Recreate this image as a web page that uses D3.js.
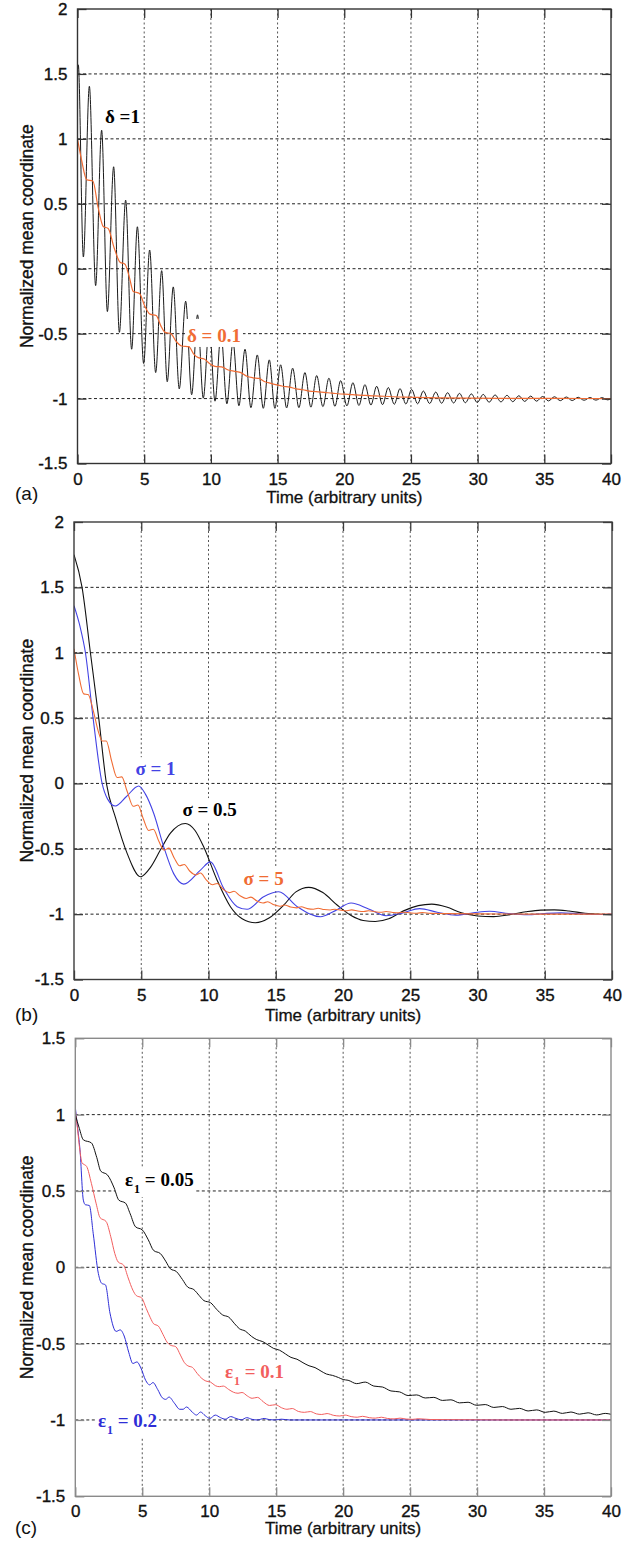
<!DOCTYPE html>
<html>
<head>
<meta charset="utf-8">
<script src="https://cdn.jsdelivr.net/npm/d3@7"></script>
<style>
body { margin: 0; background: #fff; }
svg { display: block; }
</style>
</head>
<body>
<script>
// ---- axis values ----
var xTicks = [0, 5, 10, 15, 20, 25, 30, 35, 40];
var xTickLabels = ["0", "5", "10", "15", "20", "25", "30", "35", "40"];
var yTicksAB = [-1.5, -1, -0.5, 0, 0.5, 1, 1.5, 2];
var yTickLabelsAB = ["-1.5", "-1", "-0.5", "0", "0.5", "1", "1.5", "2"];
var yTicksC = [-1.5, -1, -0.5, 0, 0.5, 1, 1.5];
var yTickLabelsC = ["-1.5", "-1", "-0.5", "0", "0.5", "1", "1.5"];

// ---- (a) delta = 1 (black), peaks and troughs ----
var deltaOne = [[0,1.50],[0.06,1.57],[0.44,0.09],[0.89,1.405],[1.36,-0.13],[1.81,1.067],[2.24,-0.33],[2.71,0.785],
 [3.14,-0.49],[3.61,0.528],[4.06,-0.62],[4.49,0.323],[4.96,-0.73],[5.41,0.144],[5.86,-0.80],[6.31,-0.015],
 [6.73,-0.87],[7.18,-0.14],[7.63,-0.925],[8.11,-0.25],[8.56,-0.97],[9.0,-0.355],[9.43,-0.997],[9.88,-0.43],
 [10.31,-1.02],[10.76,-0.50],[11.2,-1.04],[11.66,-0.565],[12.1,-1.055],[12.56,-0.62],[13.0,-1.07],[13.48,-0.664],
 [13.93,-1.075],[14.38,-0.702],[14.8,-1.075],[15.23,-0.74],[15.68,-1.072],[16.13,-0.766],[16.6,-1.07],[17.05,-0.80],
 [17.5,-1.066],[17.93,-0.823],[18.4,-1.062],[18.85,-0.843],[19.3,-1.06],[19.73,-0.862],[20.2,-1.056],[20.65,-0.878],
 [21.1,-1.053],[21.55,-0.893],[22.0,-1.05],[22.43,-0.905],[22.87,-1.047],[23.3,-0.915],[23.75,-1.044],[24.18,-0.923],
 [24.62,-1.042],[25.05,-0.93],[25.5,-1.04],[25.93,-0.942],[26.4,-1.038],[26.86,-0.95],[27.3,-1.036],[27.75,-0.955],
 [28.2,-1.034],[28.64,-0.96],[29.08,-1.032],[29.53,-0.964],[29.97,-1.03],[30.42,-0.968],[30.86,-1.028],[31.31,-0.972],
 [31.75,-1.026],[32.2,-0.975],[32.64,-1.024],[33.09,-0.978],[33.53,-1.022],[33.98,-0.981],[34.42,-1.02],[34.87,-0.984],
 [35.31,-1.018],[35.76,-0.986],[36.2,-1.016],[36.65,-0.988],[37.09,-1.015],[37.54,-0.99],[37.98,-1.013],[38.43,-0.992],
 [38.87,-1.012],[39.32,-0.993],[39.76,-1.01],[40,-1.0]];

// ---- (a) delta = 0.1 (orange) ----
var deltaTenth = [[0,1.0],[0.3,0.84],[0.69,0.685],[1.15,0.675],[1.55,0.47],[1.93,0.325],[2.3,0.31],[2.75,0.16],
 [3.19,0.05],[3.56,0.035],[3.9,-0.07],[4.18,-0.175],[4.65,-0.19],[5.05,-0.29],[5.43,-0.35],[5.9,-0.36],
 [6.25,-0.44],[6.56,-0.49],[7.0,-0.5],[7.4,-0.56],[7.81,-0.595],[8.35,-0.6],[8.7,-0.655],[9.06,-0.685],
 [9.5,-0.695],[9.9,-0.73],[10.31,-0.752],[10.8,-0.756],[11.3,-0.78],[11.8,-0.79],[12.25,-0.8],[12.7,-0.828],
 [13.15,-0.84],[13.6,-0.845],[14.05,-0.87],[14.5,-0.883],[14.95,-0.895],[15.4,-0.905],[15.9,-0.912],[16.4,-0.925],
 [16.9,-0.932],[17.4,-0.942],[17.9,-0.947],[18.5,-0.953],[19.1,-0.958],[19.7,-0.965],[20.3,-0.967],[20.9,-0.972],
 [21.6,-0.976],[22.3,-0.98],[23.0,-0.982],[23.7,-0.986],[24.5,-0.989],[25.3,-0.991],[26.2,-0.993],[27.2,-0.995],
 [29,-0.997],[32,-0.998],[36,-0.999],[40,-1.0]];

// ---- (b) sigma = 0.5 (black) ----
var sigmaHalf = [[0,1.75],[0.6,1.5],[1.22,1.0],[1.84,0.5],[2.41,0.0],[3.08,-0.26],[3.95,-0.535],[4.94,-0.714],
 [5.7,-0.64],[6.42,-0.51],[7.17,-0.38],[8.28,-0.306],[9.0,-0.36],[9.64,-0.485],[10.64,-0.74],[11.63,-0.943],
 [12.5,-1.035],[13.49,-1.066],[14.5,-1.03],[15.6,-0.93],[16.5,-0.83],[17.45,-0.795],[18.5,-0.835],[19.56,-0.93],
 [20.6,-1.01],[21.5,-1.048],[22.4,-1.056],[23.4,-1.035],[24.5,-0.975],[25.6,-0.935],[26.6,-0.923],[27.7,-0.945],
 [28.8,-0.99],[30,-1.014],[31.2,-1.019],[32.4,-1.004],[33.6,-0.982],[34.7,-0.969],[35.7,-0.967],[36.8,-0.976],
 [38,-0.993],[39,-1.001],[40,-1.004]];

// ---- (b) sigma = 1 (blue) ----
var sigmaOne = [[0,1.36],[0.45,1.2],[0.85,1.0],[1.42,0.5],[2.09,0.0],[2.5,-0.12],[3.08,-0.173],[3.9,-0.1],
 [4.81,-0.02],[5.3,-0.08],[5.93,-0.23],[6.67,-0.485],[7.41,-0.69],[8.16,-0.77],[9.4,-0.663],[10.14,-0.6],
 [11.13,-0.803],[12.13,-0.943],[12.87,-0.963],[14.1,-0.867],[15.22,-0.829],[16.6,-0.943],[18.32,-1.02],[19.4,-0.975],
 [20.6,-0.915],[21.9,-0.96],[23.2,-1.012],[24.4,-0.992],[25.7,-0.958],[27,-0.985],[28.4,-1.008],[29.7,-0.99],
 [30.9,-0.978],[32.3,-0.995],[33.7,-1.005],[35,-0.995],[36.2,-0.99],[37.6,-0.998],[39,-1.003],[40,-1.0]];

// ---- (b) sigma = 5 (orange) ----
var sigmaFive = [[0,1.03],[0.35,0.83],[0.72,0.685],[1.05,0.68],[1.45,0.55],[1.8,0.4],[2.1,0.325],[2.4,0.325],
 [2.8,0.17],[3.2,0.045],[3.55,0.05],[3.95,-0.06],[4.4,-0.175],[4.75,-0.165],[5.15,-0.27],[5.55,-0.36],
 [5.9,-0.35],[6.3,-0.44],[6.7,-0.51],[7.05,-0.495],[7.45,-0.57],[7.85,-0.63],[8.2,-0.62],[8.6,-0.67],
 [9.05,-0.7],[9.4,-0.685],[9.85,-0.74],[10.3,-0.775],[10.65,-0.765],[11.1,-0.81],[11.55,-0.835],[11.9,-0.825],
 [12.35,-0.86],[12.8,-0.88],[13.15,-0.87],[13.6,-0.9],[14.05,-0.915],[14.4,-0.905],[14.85,-0.928],[15.3,-0.94],
 [15.65,-0.93],[16.1,-0.946],[16.55,-0.952],[16.9,-0.944],[17.35,-0.958],[17.8,-0.962],[18.15,-0.955],[18.6,-0.965],
 [19.05,-0.968],[19.4,-0.962],[19.85,-0.97],[20.3,-0.974],[20.65,-0.967],[21.1,-0.976],[21.55,-0.98],[21.9,-0.974],
 [22.4,-0.982],[22.8,-0.986],[23.2,-0.98],[23.7,-0.987],[24.1,-0.99],[24.5,-0.985],[25,-0.99],[25.5,-0.993],
 [25.9,-0.988],[26.5,-0.994],[27.5,-0.996],[30,-0.998],[34,-1.0],[40,-1.0]];

// ---- (c) eps1 = 0.05 (black) ----
var epsA = [[0,1.0],[0.3,0.91],[0.6,0.835],[1.2,0.815],[1.6,0.72],[1.9,0.63],[2.4,0.605],[2.9,0.52],
 [3.25,0.44],[3.75,0.42],[4.1,0.35],[4.5,0.265],[5.0,0.245],[5.45,0.18],[5.85,0.11],[6.35,0.09],
 [6.75,0.04],[7.1,-0.01],[7.55,-0.028],[8.0,-0.08],[8.4,-0.13],[8.85,-0.146],[9.25,-0.185],[9.6,-0.218],
 [10.1,-0.232],[10.55,-0.275],[11.0,-0.312],[11.45,-0.326],[11.9,-0.37],[12.25,-0.402],[12.7,-0.418],[13.15,-0.452],
 [13.55,-0.474],[14.0,-0.487],[14.45,-0.512],[14.8,-0.531],[15.25,-0.543],[15.7,-0.568],[16.1,-0.59],[16.55,-0.602],
 [17.0,-0.625],[17.45,-0.645],[17.9,-0.657],[18.35,-0.68],[18.75,-0.699],[19.2,-0.708],[19.65,-0.722],[20.0,-0.735],
 [20.37,-0.74],[21.01,-0.762],[21.65,-0.752],[22.29,-0.778],[22.93,-0.784],[23.57,-0.81],[24.21,-0.816],[24.85,-0.84],
 [25.49,-0.836],[26.13,-0.856],[26.77,-0.852],[27.41,-0.872],[28.05,-0.868],[28.69,-0.888],[29.33,-0.884],[29.97,-0.904],
 [30.61,-0.899],[31.25,-0.918],[31.89,-0.912],[32.53,-0.93],[33.17,-0.924],[33.81,-0.941],[34.45,-0.934],[35.09,-0.95],
 [35.73,-0.942],[36.37,-0.957],[37.01,-0.948],[37.65,-0.962],[38.29,-0.953],[38.93,-0.967],[39.57,-0.957],[40,-0.963]];

// ---- (c) eps1 = 0.1 (red) ----
var epsB = [[0,1.03],[0.15,0.92],[0.35,0.76],[0.5,0.685],[0.85,0.66],[1.2,0.55],[1.55,0.42],[1.85,0.325],
 [2.3,0.3],[2.65,0.2],[2.95,0.09],[3.2,0.035],[3.6,0.015],[3.95,-0.07],[4.3,-0.15],[4.55,-0.185],
 [4.95,-0.2],[5.3,-0.27],[5.6,-0.33],[5.85,-0.37],[6.2,-0.385],[6.55,-0.44],[6.85,-0.49],[7.1,-0.51],
 [7.5,-0.52],[7.85,-0.575],[8.15,-0.625],[8.4,-0.645],[8.75,-0.656],[9.1,-0.695],[9.45,-0.728],[9.75,-0.745],
 [10.1,-0.752],[10.45,-0.775],[10.75,-0.782],[11.05,-0.778],[11.45,-0.8],[11.8,-0.818],[12.15,-0.825],[12.45,-0.82],
 [12.85,-0.843],[13.2,-0.858],[13.6,-0.852],[14.05,-0.882],[14.5,-0.905],[14.95,-0.9],[15.4,-0.92],[15.8,-0.93],
 [16.2,-0.925],[16.65,-0.944],[17.1,-0.95],[17.55,-0.945],[18.0,-0.96],[18.4,-0.964],[18.8,-0.958],[19.3,-0.97],
 [19.75,-0.974],[20.15,-0.968],[20.6,-0.978],[21.05,-0.982],[21.45,-0.976],[21.95,-0.985],[22.4,-0.988],[22.85,-0.982],
 [23.3,-0.99],[23.8,-0.993],[24.25,-0.988],[24.7,-0.994],[25.2,-0.996],[25.6,-0.992],[26.5,-0.997],[28,-0.998],
 [32,-1.0],[40,-1.0]];

// ---- (c) eps1 = 0.2 (blue) ----
var epsC = [[0,1.05],[0.15,0.93],[0.35,0.77],[0.6,0.44],[0.75,0.41],[1.05,0.405],[1.34,0.22],[1.72,-0.04],
 [1.97,-0.105],[2.25,-0.115],[2.59,-0.3],[3.05,-0.42],[3.35,-0.41],[3.65,-0.45],[4.0,-0.56],[4.3,-0.63],
 [4.6,-0.62],[4.9,-0.66],[5.25,-0.74],[5.55,-0.77],[5.8,-0.755],[6.15,-0.8],[6.5,-0.855],[6.75,-0.865],
 [7.0,-0.85],[7.4,-0.89],[7.8,-0.93],[8.05,-0.93],[8.3,-0.915],[8.75,-0.95],[9.05,-0.968],[9.35,-0.948],
 [9.7,-0.972],[10.05,-0.99],[10.45,-0.968],[10.85,-0.985],[11.2,-0.995],[11.6,-0.978],[12.0,-0.99],[12.4,-0.999],
 [12.8,-0.985],[13.2,-0.996],[13.6,-1.0],[14.1,-0.99],[14.5,-0.998],[14.9,-1.0],[15.4,-0.995],[16,-1.0],[40,-1.0]];

var orange = "#f06c34", blue = "#4343e4", red = "#f25e5e", blueC = "#2e2ed6";
var sans = "'Liberation Sans', Arial, Helvetica, sans-serif";
var serif = "'Liberation Serif', 'Times New Roman', serif";

var panels = [
  { tag: "(a)", left: 77.5, right: 611, top: 9, bottom: 463.5, yMin: -1.5, yMax: 2,
    yTicks: yTicksAB, yLabels: yTickLabelsAB, frame: "#333", tagDy: 30, timeDy: 34,
    series: [ { data: deltaOne, color: "#1a1a1a", width: 1, under: true },
              { data: deltaTenth, color: orange, width: 1.2 } ],
    labels: [ { text: "\u03b4 =1", t: 2.06, v: 1.12, color: "#000" },
              { text: "\u03b4 = 0.1", t: 8.21, v: -0.564, color: orange, padTop: 6 } ] },
  { tag: "(b)", left: 74, right: 612, top: 522, bottom: 979.5, yMin: -1.5, yMax: 2,
    yTicks: yTicksAB, yLabels: yTickLabelsAB, frame: "#3c3c3c", tagDy: 35, timeDy: 36,
    series: [ { data: sigmaHalf, color: "#111", width: 1.1 },
              { data: sigmaOne, color: blue, width: 1.1 },
              { data: sigmaFive, color: orange, width: 1.1 } ],
    labels: [ { text: "\u03c3 = 1", t: 4.57, v: 0.063, color: blue },
              { text: "\u03c3 = 0.5", t: 8.06, v: -0.25, color: "#000" },
              { text: "\u03c3 = 5", t: 12.6, v: -0.778, color: orange } ] },
  { tag: "(c)", left: 75.3, right: 611, top: 1038.3, bottom: 1496.3, yMin: -1.5, yMax: 1.5,
    yTicks: yTicksC, yLabels: yTickLabelsC, frame: "#8a8a8a", tagDy: 31, timeDy: 32,
    series: [ { data: epsC, color: blueC, width: 1 },
              { data: epsB, color: red, width: 1 },
              { data: epsA, color: "#111", width: 1 } ],
    labels: [ { text: "\u03b5", sub: "1", rest: " = 0.05", t: 3.71, v: 0.532, color: "#000", padLeft: 10 },
              { text: "\u03b5", sub: "1", rest: " = 0.1", t: 11.17, v: -0.725, color: red },
              { text: "\u03b5", sub: "1", rest: " = 0.2", t: 1.69, v: -1.046, color: blueC } ] }
];

var svg = d3.select("body").append("svg").attr("width", 641).attr("height", 1541);

panels.forEach(function(p, pi) {
  var x = d3.scaleLinear().domain([0, 40]).range([p.left, p.right]);
  var y = d3.scaleLinear().domain([p.yMin, p.yMax]).range([p.bottom, p.top]);
  var g = svg.append("g");
  var w = p.right - p.left, h = p.bottom - p.top;

  var clipId = "clip" + pi;
  g.append("clipPath").attr("id", clipId).append("rect")
    .attr("x", p.left).attr("y", p.top).attr("width", w).attr("height", h);

  // grid
  var inY = p.yTicks.filter(function(d) { return d > p.yMin && d < p.yMax; });
  var inX = xTicks.filter(function(d) { return d > 0 && d < 40; });
  g.append("g").selectAll("line").data(inY).join("line")
    .attr("x1", p.left).attr("x2", p.right)
    .attr("y1", function(d) { return y(d); }).attr("y2", function(d) { return y(d); })
    .attr("stroke", "#222").attr("stroke-width", 1).attr("stroke-dasharray", "3,2.5");
  g.append("g").selectAll("line").data(inX).join("line")
    .attr("y1", p.top).attr("y2", p.bottom)
    .attr("x1", function(d) { return x(d); }).attr("x2", function(d) { return x(d); })
    .attr("stroke", "#555").attr("stroke-width", 1).attr("stroke-dasharray", "2,2.5");

  var plot = g.append("g").attr("clip-path", "url(#" + clipId + ")");
  var line = d3.line().x(function(d) { return x(d[0]); }).y(function(d) { return y(d[1]); })
    .curve(d3.curveMonotoneX);

  function drawSeries(list) {
    list.forEach(function(s) {
      plot.append("path").datum(s.data).attr("d", line)
        .attr("fill", "none").attr("stroke", s.color).attr("stroke-width", s.width);
    });
  }

  drawSeries(p.series.filter(function(s) { return s.under; }));
  var boxes = plot.append("g");
  drawSeries(p.series.filter(function(s) { return !s.under; }));

  // curve labels, each on a white patch
  var tg = g.append("g");
  p.labels.forEach(function(l) {
    var t = tg.append("text").attr("x", x(l.t)).attr("y", y(l.v))
      .attr("font-family", serif).attr("font-weight", "bold")
      .attr("font-size", 19).attr("fill", l.color);
    t.append("tspan").text(l.text);
    if (l.sub) {
      t.append("tspan").attr("font-size", 12).attr("dx", 1).attr("dy", 7).text(l.sub);
      t.append("tspan").attr("dy", -7).text(l.rest);
    }
    var b = t.node().getBBox();
    var pl = l.padLeft || 2, pt = l.padTop || 1;
    boxes.append("rect").attr("x", b.x - pl).attr("y", b.y - pt)
      .attr("width", b.width + pl + 2).attr("height", b.height + pt + 1)
      .attr("fill", "#fff");
  });

  // frame
  g.append("rect").attr("x", p.left).attr("y", p.top).attr("width", w).attr("height", h)
    .attr("fill", "none").attr("stroke", p.frame).attr("stroke-width", 1.4);

  // axes with inward ticks
  var fmtY = function(d) { return p.yLabels[p.yTicks.indexOf(d)]; };
  var fmtX = function(d) { return xTickLabels[xTicks.indexOf(d)]; };
  var axL = g.append("g").attr("transform", "translate(" + p.left + ",0)")
    .call(d3.axisLeft(y).tickValues(p.yTicks).tickSize(-9).tickPadding(10).tickFormat(fmtY));
  var axR = g.append("g").attr("transform", "translate(" + p.right + ",0)")
    .call(d3.axisRight(y).tickValues(p.yTicks).tickSize(-9).tickFormat(""));
  var axB = g.append("g").attr("transform", "translate(0," + p.bottom + ")")
    .call(d3.axisBottom(x).tickValues(xTicks).tickSize(-9).tickPadding(9).tickFormat(fmtX));
  var axT = g.append("g").attr("transform", "translate(0," + p.top + ")")
    .call(d3.axisTop(x).tickValues(xTicks).tickSize(-9).tickFormat(""));
  [axL, axR, axB, axT].forEach(function(a) {
    a.select(".domain").remove();
    a.selectAll(".tick line").attr("stroke", p.frame).attr("stroke-width", 1.3);
    a.selectAll("text").attr("font-family", sans).attr("font-size", 17).attr("fill", "#111")
      .attr("stroke", "#111").attr("stroke-width", 0.35);
  });

  // axis titles
  g.append("text").attr("x", (p.left + p.right) / 2).attr("y", p.bottom + p.timeDy)
    .attr("dy", "0.35em").attr("text-anchor", "middle")
    .attr("font-family", sans).attr("font-size", 17).attr("fill", "#111")
    .attr("stroke", "#111").attr("stroke-width", 0.3)
    .text("Time (arbitrary units)");
  g.append("text").attr("transform", "translate(33," + (p.top + p.bottom) / 2 + ") rotate(-90)")
    .attr("text-anchor", "middle")
    .attr("font-family", sans).attr("font-size", 17.5).attr("fill", "#111")
    .attr("stroke", "#111").attr("stroke-width", 0.35)
    .text("Normalized mean coordinate");
  g.append("text").attr("x", 15).attr("y", p.bottom + p.tagDy).attr("dy", "0.35em")
    .attr("font-family", sans).attr("font-size", 19).attr("fill", "#111")
    .text(p.tag);
});
</script>
</body>
</html>
